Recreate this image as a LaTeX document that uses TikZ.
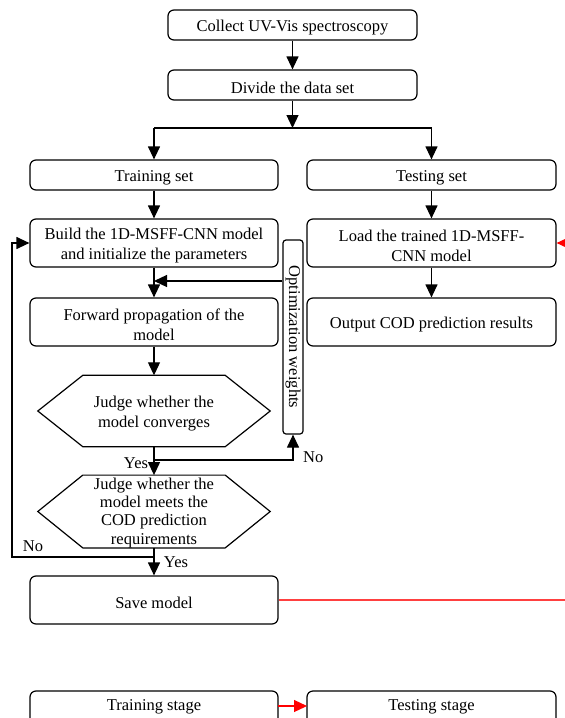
\documentclass[tikz,border=0pt]{standalone}
\usepackage{fontspec}
\setmainfont{Liberation Serif}
\usetikzlibrary{arrows.meta,calc}
\newcommand{\dnstrut}{\rule{0pt}{17pt}}
\begin{document}
\begin{tikzpicture}[x=1pt,y=-1pt,
  font=\fontsize{16.5}{20}\selectfont,
  box/.style={draw,line width=1.2pt,rounded corners=6pt,align=center,inner sep=0pt},
  arr/.style={line width=1.2pt,-{Triangle[width=12pt,length=13pt]}},
  ln/.style={line width=1.2pt},
  rarr/.style={line width=1.2pt,red,-{Triangle[width=12pt,length=13pt]}},
  lbl/.style={inner sep=0pt}]
\useasboundingbox (0,0) rectangle (565,718);
\node[box,minimum width=249pt,minimum height=30pt] (collect) at (292.5,25) {\dnstrut Collect UV-Vis spectroscopy};
\node[box,minimum width=249pt,minimum height=30pt] (divide) at (292.5,85) {\dnstrut Divide the data set};
\node[box,minimum width=248pt,minimum height=30pt] (train) at (154,175) {\dnstrut Training set};
\node[box,minimum width=249pt,minimum height=30pt] (test) at (431.5,175) {\dnstrut Testing set};
\node[box,minimum width=248pt,minimum height=48pt] (build) at (154,243) {\dnstrut Build the 1D-MSFF-CNN model\\and initialize the parameters};
\node[box,minimum width=249pt,minimum height=48pt] (load) at (431.5,243) {\dnstrut Load the trained 1D-MSFF-\\CNN model};
\node[box,minimum width=248pt,minimum height=48pt] (fwd) at (154,322) {\dnstrut Forward propagation of the\\model};
\node[box,minimum width=249pt,minimum height=48pt] (out) at (431.5,322) {\dnstrut Output COD prediction results};
\node[box,rounded corners=3pt,minimum width=20pt,minimum height=194pt] (opt) at (293,337) {};
\node[rotate=-90,lbl] at (opt.center) {Optimization weights};
% hexagons
\node[minimum width=232pt,minimum height=71pt,inner sep=0pt,align=center] (j1) at (154,411) {\dnstrut Judge whether the\\model converges};
\draw[ln] (j1.west) -- ($(j1.north west)+(45,0)$) -- ($(j1.north east)+(-45,0)$) -- (j1.east) -- ($(j1.south east)+(-45,0)$) -- ($(j1.south west)+(45,0)$) -- cycle;
\node[minimum width=232pt,minimum height=69pt,inner sep=0pt,align=center,font=\fontsize{16.5}{18.3}\selectfont] (j2) at (154,511.5) {\rule{0pt}{14pt}Judge whether the\\model meets the\\COD prediction\\requirements};
\draw[ln] (j2.west) -- ($(j2.north west)+(45,0)$) -- ($(j2.north east)+(-45,0)$) -- (j2.east) -- ($(j2.south east)+(-45,0)$) -- ($(j2.south west)+(45,0)$) -- cycle;
\node[box,minimum width=248pt,minimum height=48pt] (save) at (154,600) {\dnstrut Save model};
\node[box,minimum width=248pt,minimum height=40pt] (tstage) at (154,711) {};
\node[lbl] at (154,707) {Training stage};
\node[box,minimum width=249pt,minimum height=40pt] (sstage) at (431.5,711) {};
\node[lbl] at (431.5,707) {Testing stage};
% connectors
\draw[arr] (collect) -- (divide);
\coordinate (split) at (292.5,128);
\draw[arr] (divide) -- (split);
\draw[ln] (154,128) -- (432,128);
\draw[arr] (154,128) -- (train);
\draw[arr] (431.5,128) -- (test);
\draw[arr] (train) -- (build);
\draw[arr] (test) -- (load);
\draw[arr] (load) -- (out);
\draw[arr] (build) -- (fwd);
\coordinate (optin) at (154,281);
\draw[arr] (opt.west |- optin) -- (optin);
\draw[arr] (fwd) -- (fwd |- j1.north);
\draw[arr] (j1.south) -- (j2.north);
\coordinate (nob) at (154,460);
\draw[arr] (nob) -| (opt.south);
\node[lbl,anchor=west] at (303,457) {No};
\node[lbl] at (136,463) {Yes};
\draw[arr] (j2.south) -- (save.north);
\node[lbl] at (176,562) {Yes};
\coordinate (noc) at (154,557);
\draw[arr] (noc) -- (12,557) |- (build.west);
\node[lbl] at (33,546) {No};
\coordinate (redend) at (566,600);
\draw[ln,red!75] (save.east) -- (redend);
\coordinate (redin) at (566,243);
\draw[rarr] (redin) -- (load.east);
\draw[rarr] (278,706) -- (307,706);
\end{tikzpicture}
\end{document}
